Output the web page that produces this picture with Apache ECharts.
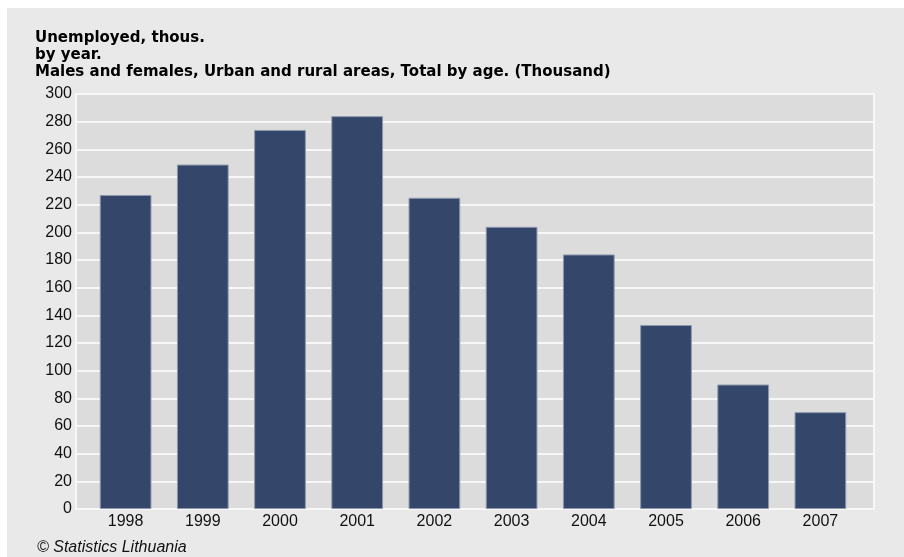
<!DOCTYPE html>
<html>
<head>
<meta charset="utf-8">
<script src="https://cdn.jsdelivr.net/npm/echarts@6/dist/echarts.min.js"></script>
<style>
html,body{margin:0;padding:0;background:#ffffff;}
#chart{width:904px;height:557px;}
</style>
</head>
<body>
<div id="chart"></div>
<script>
const years = ['1998','1999','2000','2001','2002','2003','2004','2005','2006','2007'];
const unemployed = [227, 249, 274, 284, 225, 204, 184, 133, 90, 70];
const yTicks = {min: 0, max: 300, interval: 20};
const titleLines = ['Unemployed, thous.', 'by year.', 'Males and females, Urban and rural areas, Total by age. (Thousand)'];
const credit = '\u00A9 Statistics Lithuania';

const sans = "'Liberation Sans', Arial, sans-serif";

const chart = echarts.init(document.getElementById('chart'), null, {renderer: 'canvas'});
chart.setOption({
  animation: false,
  backgroundColor: '#ffffff',
  graphic: [
    {type: 'rect', z: -10, shape: {x: 7, y: 8, width: 897, height: 549}, style: {fill: '#e9e9e9'}}
  ],
  title: [
    {
      text: titleLines.join('\n'),
      left: 35, top: 30, padding: 0,
      textStyle: {fontFamily: "'DejaVu Sans', sans-serif", fontWeight: 'bold', fontSize: 15, lineHeight: 17, color: '#000'}
    },
    {
      text: credit,
      left: 37, top: 540, padding: 0,
      textStyle: {fontFamily: sans, fontStyle: 'italic', fontWeight: 'normal', fontSize: 16, color: '#111'}
    }
  ],
  grid: [
    {left: 76, right: 30, top: 94, bottom: 48, show: true, backgroundColor: '#dcdcdc', borderColor: '#f7f7f7', borderWidth: 2},
    {left: 87, right: 45, top: 94, bottom: 48}
  ],
  xAxis: [
    {type: 'category', gridIndex: 0, data: years, show: false},
    {type: 'category', gridIndex: 1, data: years,
     axisLine: {show: false}, axisTick: {show: false},
     axisLabel: {fontFamily: sans, fontSize: 16, color: '#111', margin: 5}}
  ],
  yAxis: [
    {type: 'value', gridIndex: 0, min: yTicks.min, max: yTicks.max, interval: yTicks.interval,
     axisLine: {show: false}, axisTick: {show: false},
     splitLine: {show: true, lineStyle: {color: '#f7f7f7', width: 2}},
     axisLabel: {fontFamily: sans, fontSize: 16, color: '#111', margin: 4}},
    {type: 'value', gridIndex: 1, min: yTicks.min, max: yTicks.max, interval: yTicks.interval, show: false}
  ],
  series: [
    {type: 'bar', xAxisIndex: 1, yAxisIndex: 1, data: unemployed, barCategoryGap: '33%',
     itemStyle: {color: '#34476a', borderColor: '#8d98ad', borderWidth: 1}}
  ]
});
</script>
</body>
</html>
